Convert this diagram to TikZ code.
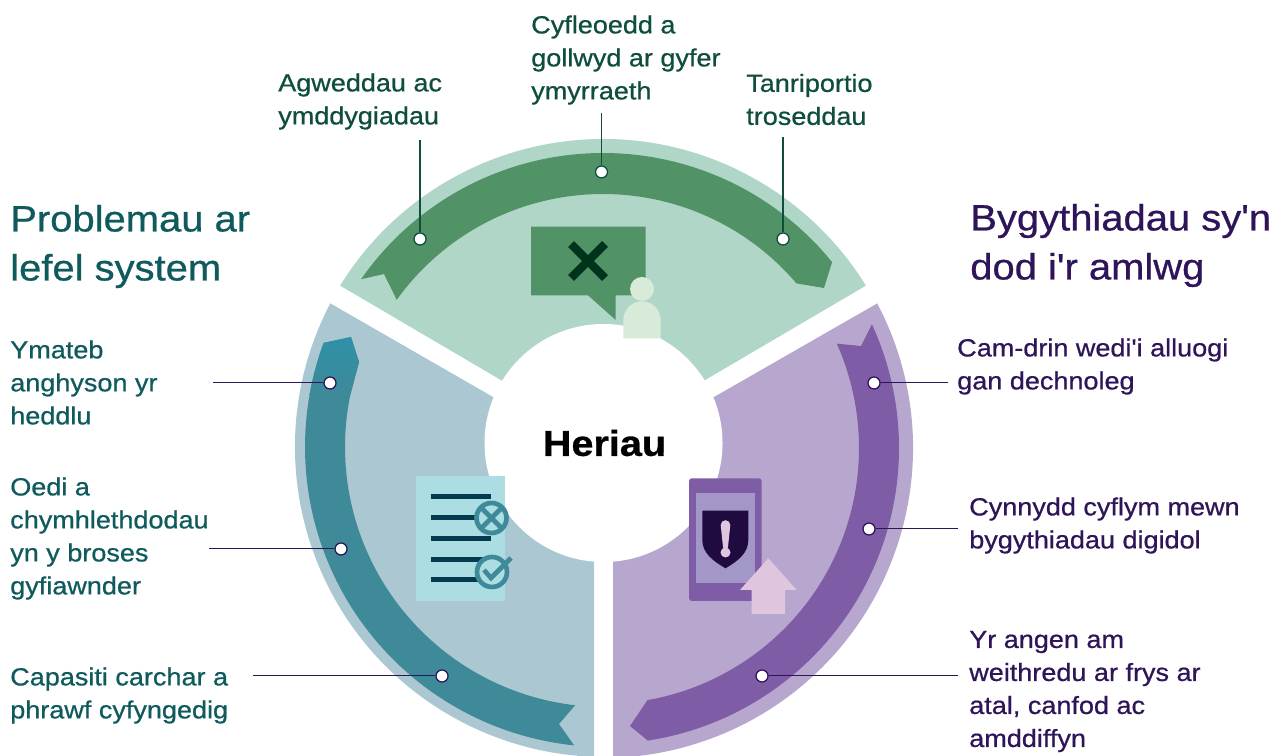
\documentclass[tikz,border=0pt]{standalone}
\usepackage{fontspec}
\newfontfamily\lblfont{Liberation Sans}[FakeStretch=1.09,FakeBold=0.7]
\newfontfamily\herfont{Liberation Sans Bold}[FakeStretch=1.10,FakeBold=0.8]
\definecolor{gseg}{HTML}{B0D6C8}
\definecolor{grib}{HTML}{529267}
\definecolor{gtxt}{HTML}{0F4D3F}
\definecolor{bseg}{HTML}{AAC7D2}
\definecolor{brib}{HTML}{3E8A99}
\definecolor{briblt}{HTML}{2F90A8}
\definecolor{btxt}{HTML}{0F5A5C}
\definecolor{pseg}{HTML}{B7A7CF}
\definecolor{prib}{HTML}{7F5CA6}
\definecolor{ptxt}{HTML}{2E1458}
\definecolor{docc}{HTML}{ABDDE3}
\definecolor{docl}{HTML}{033A50}
\definecolor{scrn}{HTML}{A397C8}
\definecolor{shld}{HTML}{1F0B40}
\definecolor{pink}{HTML}{DFC6DE}
\definecolor{pers}{HTML}{D8EAD8}
\definecolor{xcol}{HTML}{00331C}
\tikzset{
 lab/.style={anchor=west,inner sep=0pt,align=left,font=\lblfont\fontsize{18.6}{24.75}\selectfont},
 head/.style={anchor=west,inner sep=0pt,align=left,font=\lblfont\fontsize{27.5}{36.75}\selectfont},
 dot/.style={circle,draw,fill=white,line width=0.95pt,minimum size=9pt,inner sep=0pt},
 conn/.style={line width=0.75pt},
 gconn/.style={line width=1pt,gtxt},
 docline/.style={docl,line width=3.75pt},
}
\begin{document}
\begin{tikzpicture}[x=0.75pt,y=0.75pt]
\useasboundingbox (0,0) rectangle (1284,756);
% segments
\fill[gseg] ([shift={(603,308)}]148.3:309) arc[start angle=148.3,end angle=31.7,radius=309] -- (666,353) -- (540,353) -- cycle;
\fill[bseg] ([shift={(605,309)}]152.4:310) arc[start angle=152.4,end angle=267.97,radius=310] -- (594,256) -- (540,332) -- cycle;
\fill[pseg] ([shift={(603,308)}]27.8:310) arc[start angle=27.8,end angle=-88.15,radius=310] -- (613,256) -- (660,328) -- cycle;
% ribbons
\fill[grib] ([shift={(603,308)}]145.1:295) arc[start angle=145.1,end angle=39.05,radius=295] -- (824,468) -- ([shift={(603,308)}]40.4:254) arc[start angle=40.4,end angle=144.3,radius=254] -- (384,482) -- cycle;
\fill[brib] ([shift={(605,309)}]159.7:300) arc[start angle=159.7,end angle=264.1,radius=300] -- (559,32) -- ([shift={(605,309)}]263.4:260) arc[start angle=263.4,end angle=168.5,radius=260] -- (359,394) -- (351,419) -- cycle;
\shade[top color=briblt,bottom color=brib] ([shift={(605,309)}]159.7:300) arc[start angle=159.7,end angle=170,radius=300] -- ([shift={(605,309)}]168.5:260) -- (359,394) -- (351,419) -- cycle;
\fill[prib] ([shift={(603,308)}]24.7:296) arc[start angle=24.7,end angle=-81.3,radius=296] -- (630,30) -- ([shift={(603,308)}]-80:256) arc[start angle=-80,end angle=24.05,radius=256] -- (861,410) -- cycle;
% hub
\node[circle,fill=white,minimum size=178.5pt,inner sep=0pt] (hub) at (603.5,313) {};
\node[inner sep=0pt,font=\herfont\fontsize{27}{32}\selectfont] (heriau) at (604.5,313) {Heriau};
% speech icon
\fill[grib] (531,529.3) -- (645.7,529.3) -- (645.7,460.7) -- (615.7,460.7) -- (615.7,436) -- (588,460.7) -- (531,460.7) -- cycle;
\draw[xcol,line width=6.2pt] (571,512) -- (605,478) (605,512) -- (571,478);
\fill[pers] (623.3,417.7) -- (660.7,417.7) -- (660.7,436) arc[start angle=0,end angle=180,radius=18.7] -- cycle;
\fill[pers] (642,467) circle[radius=12];
% document icon
\fill[docc] (416,155) rectangle (505,280);
\foreach \yy/\xe in {259/491,238/491,217/491,196/491,176/491}{\draw[docline] (430.5,\yy) -- (\xe,\yy);}
\fill[docc] (491.5,238) circle[radius=15];
\draw[brib,line width=3.5pt] (491.5,238) circle[radius=15];
\draw[brib,line width=3.5pt] (482,247.5) -- (501,228.5) (482,228.5) -- (501,247.5);
\fill[docc] (492,184) circle[radius=15];
\draw[brib,line width=3.5pt] (492,184) circle[radius=15];
\draw[brib,line width=3.5pt] (484,186) -- (491,178) -- (511,198);
% phone icon
\fill[prib,rounded corners=2.2pt] (689,155) rectangle (761.7,277.7);
\fill[scrn] (695.7,173.3) rectangle (755.3,262.7);
\fill[shld] (702.3,245.3) -- (748.3,245.3) -- (748.3,216) .. controls (748.3,203) and (738,195) .. (725.5,187.7) .. controls (713,195) and (702.3,203) .. (702.3,216) -- cycle;
\fill[pink] (720.7,231) arc[start angle=180,end angle=0,radius=4.8] -- (728,209) arc[start angle=0,end angle=-180,radius=2.5] -- cycle;
\fill[pink] (725.5,203.5) circle[radius=5];
\fill[pink] (768.3,197.7) -- (796.7,166) -- (785,166) -- (785,142) -- (751.7,142) -- (751.7,166) -- (740,166) -- cycle;
% dots
\node[dot,draw=gtxt] (d1) at (420,517) {};
\node[dot,draw=gtxt] (d2) at (601.5,584) {};
\node[dot,draw=gtxt] (d3) at (783,517) {};
\node[dot,draw=ptxt] (d4) at (330,373) {};
\node[dot,draw=ptxt] (d5) at (341,207) {};
\node[dot,draw=ptxt] (d6) at (442,80) {};
\node[dot,draw=ptxt] (d7) at (874,373) {};
\node[dot,draw=ptxt] (d8) at (869,227) {};
\node[dot,draw=ptxt] (d9) at (762,80) {};
% labels
\node[lab,text=gtxt] (t1) at (278,654.5) {Agweddau ac\\ymddygiadau};
\node[lab,text=gtxt] (t2) at (531,696) {Cyfleoedd a\\gollwyd ar gyfer\\ymyrraeth};
\node[lab,text=gtxt] (t3) at (746,656.5) {Tanriportio\\troseddau};
\node[head,text=btxt] (h1) at (10,509.5) {Problemau ar\\lefel system};
\node[lab,text=btxt] (t4) at (10,373.5) {Ymateb\\anghyson yr\\heddlu};
\node[lab,text=btxt] (t5) at (10,217.5) {Oedi a\\chymhlethdodau\\yn y broses\\gyfiawnder};
\node[lab,text=btxt] (t6) at (10,60.5) {Capasiti carchar a\\phrawf cyfyngedig};
\node[head,text=ptxt] (h2) at (970,510.5) {Bygythiadau sy'n\\dod i'r amlwg};
\node[lab,text=ptxt] (t7) at (957,389.5) {Cam-drin wedi'i alluogi\\gan dechnoleg};
\node[lab,text=ptxt] (t8) at (969,230.5) {Cynnydd cyflym mewn\\bygythiadau digidol};
\node[lab,text=ptxt] (t9) at (969,64.5) {Yr angen am\\weithredu ar frys ar\\atal, canfod ac\\amddiffyn};
% connectors
\coordinate (c1) at (420,616);
\coordinate (c2) at (601.5,643);
\coordinate (c3) at (783,619);
\coordinate (c4) at (213,373);
\coordinate (c5) at (209,207);
\coordinate (c6) at (253,80);
\coordinate (c7) at (948,373);
\coordinate (c8) at (958,227);
\coordinate (c9) at (958,80);
\draw[gconn] (c1) -- (d1);
\draw[gconn] (c2) -- (d2);
\draw[gconn] (c3) -- (d3);
\draw[conn,ptxt] (c4) -- (d4);
\draw[conn,ptxt] (c5) -- (d5);
\draw[conn,ptxt] (c6) -- (d6);
\draw[conn,ptxt] (c7) -- (d7);
\draw[conn,ptxt] (c8) -- (d8);
\draw[conn,ptxt] (c9) -- (d9);
\end{tikzpicture}
\end{document}
